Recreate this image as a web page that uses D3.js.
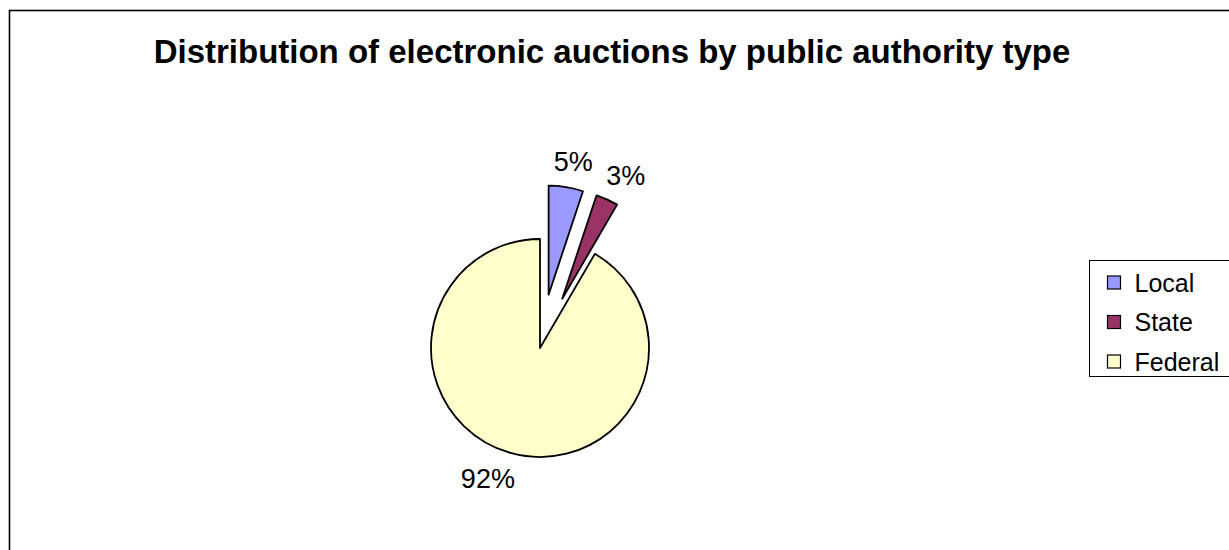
<!DOCTYPE html>
<html>
<head>
<meta charset="utf-8">
<script src="https://cdn.jsdelivr.net/npm/d3@7"></script>
<style>
  body { margin: 0; background: #fff; }
  text { font-family: "Liberation Sans", Arial, sans-serif; }
</style>
</head>
<body>
<svg width="1229" height="550"></svg>
<script>
const svg = d3.select("svg"),
    width = +svg.attr("width"),
    height = +svg.attr("height")

// chart data
const categories = ["Local", "State", "Federal"],
    shares = [5.1, 3.3, 91.6],
    colors = ["#9999ff", "#993366", "#ffffcc"],
    exploded = [true, true, false]

const title = "Distribution of electronic auctions by public authority type"

const cx = 540, cy = 348, radius = 109, explodeBy = 54, labelR = 135

// outer chart frame, runs off the right and bottom edges
svg.append("rect")
    .attr("x", 9.5).attr("y", 10.5)
    .attr("width", 1400).attr("height", 700)
    .attr("fill", "none")
    .attr("stroke", "#000")
    .attr("stroke-width", 1.6)

svg.append("text")
    .attr("x", 612).attr("y", 63)
    .attr("text-anchor", "middle")
    .attr("font-size", 33)
    .attr("font-weight", "bold")
    .text(title)

const pie = d3.pie().sort(null).value(d => d.value)
const arc = d3.arc().innerRadius(0).outerRadius(radius)

const data = categories.map((c, i) => ({
    name: c, value: shares[i], color: colors[i], explode: exploded[i]
}))
const arcs = pie(data)

function offset(d) {
    const a = (d.startAngle + d.endAngle) / 2,
        r = d.data.explode ? explodeBy : 0
    return [Math.sin(a) * r, -Math.cos(a) * r]
}

const g = svg.append("g").attr("transform", `translate(${cx},${cy})`)

g.selectAll("path.slice")
    .data(arcs)
    .enter()
    .append("path")
    .attr("class", "slice")
    .attr("d", arc)
    .attr("transform", d => `translate(${offset(d)})`)
    .attr("fill", d => d.data.color)
    .attr("stroke", "#000")
    .attr("stroke-width", 1.8)
    .attr("stroke-linejoin", "round")

// percentage labels
g.selectAll("text.pct")
    .data(arcs)
    .enter()
    .append("text")
    .attr("class", "pct")
    .attr("font-size", 27)
    .attr("text-anchor", "middle")
    .attr("dy", "0.35em")
    .text(d => Math.round(d.data.value) + "%")
    .each(function (d) {
        const a = (d.startAngle + d.endAngle) / 2,
            o = offset(d),
            w = this.getComputedTextLength()
        const x = o[0] + Math.sin(a) * labelR + Math.sin(a) * w * (Math.sin(a) < 0 ? 1.2 : 0.5),
            y = o[1] - Math.cos(a) * labelR
        d3.select(this).attr("x", x).attr("y", y)
    })

// legend
const legend = svg.append("g").attr("transform", "translate(1089.5,260.5)")
legend.append("rect")
    .attr("width", 200).attr("height", 116)
    .attr("fill", "#fff")
    .attr("stroke", "#000")
    .attr("stroke-width", 1)

const item = legend.selectAll("g.item")
    .data(data)
    .enter()
    .append("g")
    .attr("class", "item")
    .attr("transform", (d, i) => `translate(0,${22 + i * 39.5})`)

item.append("rect")
    .attr("x", 18).attr("y", -6.5)
    .attr("width", 13).attr("height", 13)
    .attr("fill", d => d.color)
    .attr("stroke", "#000")
    .attr("stroke-width", 1.2)

item.append("text")
    .attr("x", 45)
    .attr("dy", "0.36em")
    .attr("font-size", 25)
    .text(d => d.name)
</script>
</body>
</html>
